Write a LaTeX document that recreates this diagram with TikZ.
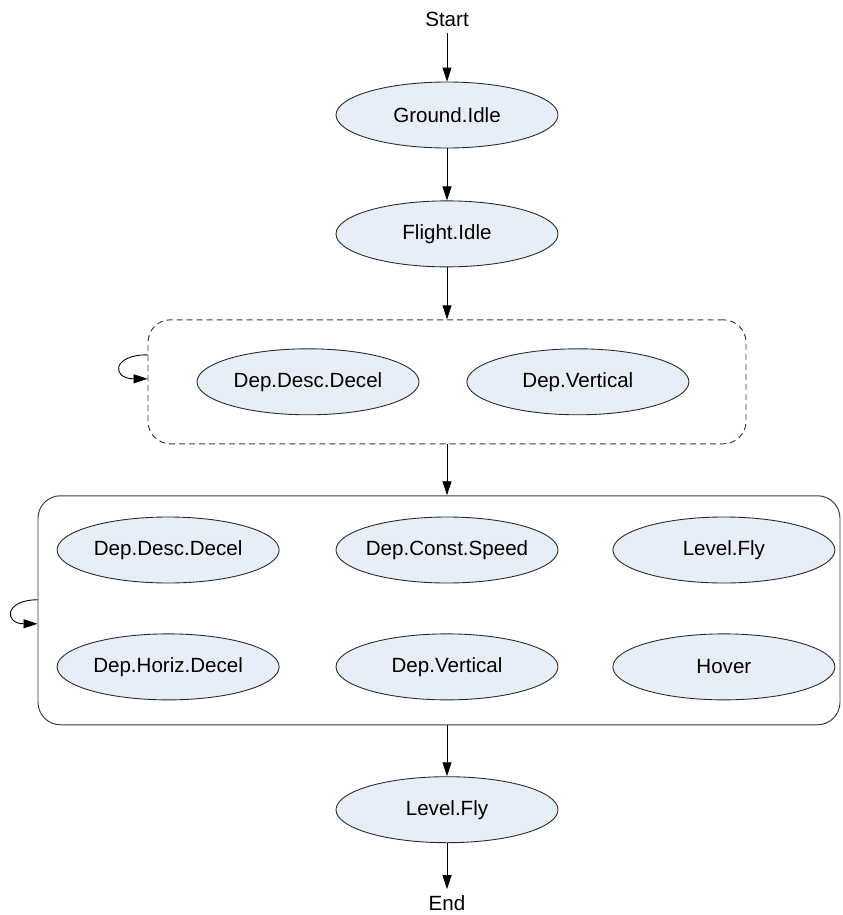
\documentclass[tikz,border=0pt]{standalone}
\usepackage{fontspec}
\setmainfont{Liberation Sans}
\usepackage{tikz}
\usetikzlibrary{arrows.meta, shapes, positioning}
\definecolor{statefill}{RGB}{232, 238, 247}
\definecolor{stateline}{RGB}{40, 40, 40}
\definecolor{groupline}{RGB}{60, 60, 60}

\begin{document}
\begin{tikzpicture}[
    node distance=1.04cm,
    every node/.style={font=\fontsize{11.7}{14}\selectfont},
    state/.style={ellipse, draw=stateline, line width=0.5pt, fill=statefill, minimum width=4.44cm, minimum height=1.32cm, inner xsep=-1.5mm, inner ysep=0pt},
    group/.style={rectangle, draw=groupline, line width=0.55pt, rounded corners=0.45cm},
    arrow/.style={-{Triangle[length=2.8mm, width=1.8mm]}, line width=0.5pt}
]
    \useasboundingbox (0,0) rectangle (16.86,-18.30);

    \node[state] (ground) at (8.94,-2.30) {Ground.Idle};
    \node[above=0.98cm of ground] (start) {Start};
    \node[state, below=of ground] (flight) {Flight.Idle};

    % first group
    \node[group, dashed, dash pattern=on 3.4pt off 2.3pt, minimum width=11.96cm, minimum height=2.48cm, below=of flight] (grp1) {};
    \node[state] (descA) at ([xshift=-2.78cm]grp1.center) {Dep.Desc.Decel};
    \node[state, right=0.94cm of descA] (vertA) {Dep.Vertical};

    % second group
    \node[group, minimum width=16.04cm, minimum height=4.58cm, below=1.02cm of grp1, xshift=-0.16cm] (grp2) {};
    \node[state] (constB) at (8.94,-11.00) {Dep.Const.Speed};
    \node[state, left=1.12cm of constB] (descB) {Dep.Desc.Decel};
    \node[state, right=1.08cm of constB] (levelB) {Level.Fly};
    \node[state, below=1.0cm of descB] (horizB) {Dep.Horiz.Decel};
    \node[state, below=1.0cm of constB] (vertB) {Dep.Vertical};
    \node[state, below=1.0cm of levelB] (hover) {Hover};

    \node[state, below=1.02cm of grp2.south -| ground] (level) {Level.Fly};
    \node[below=0.92cm of level] (end) {End};

    \draw[arrow] (start) -- (ground);
    \draw[arrow] (ground) -- (flight);
    \draw[arrow] (flight) -- (grp1);
    \draw[arrow] (grp1.south -| ground) -- (grp2.north -| ground);
    \draw[arrow] (grp2.south -| level) -- (level);
    \draw[arrow] (level) -- (end);

    % self loops
    \draw[arrow] ([yshift=0.54cm]grp1.west) .. controls +(-0.72,0) and +(-0.72,0) .. ([yshift=0.06cm]grp1.west);
    \draw[arrow] ([yshift=0.21cm]grp2.west) .. controls +(-0.67,0) and +(-0.67,0) .. ([yshift=-0.27cm]grp2.west);
\end{tikzpicture}
\end{document}
